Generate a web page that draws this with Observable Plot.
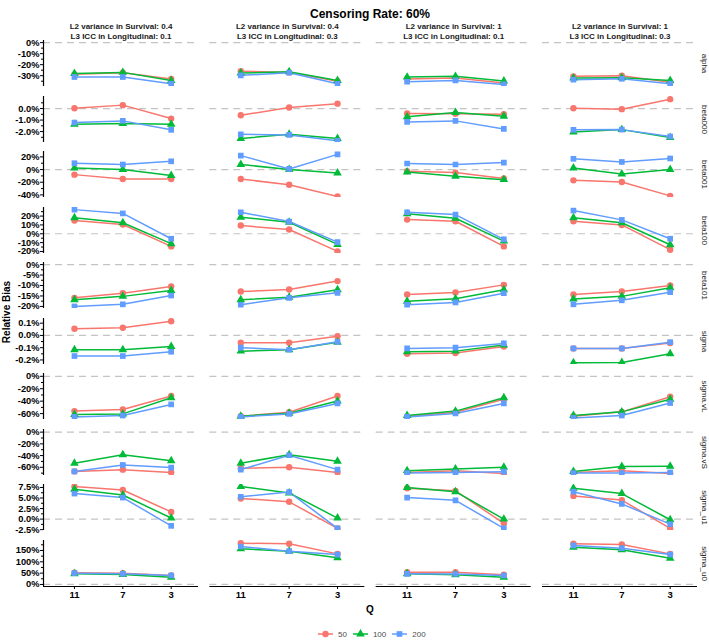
<!DOCTYPE html>
<html>
<head>
<meta charset="utf-8">
<script src="https://cdn.jsdelivr.net/npm/d3@7"></script>
<script src="https://cdn.jsdelivr.net/npm/@observablehq/plot@0.6"></script>
<style>
  body { margin: 0; background: #fff; }
  #chart { position: relative; width: 709px; height: 640px; overflow: hidden;
           font-family: "Liberation Sans", Arial, sans-serif; color: #000; }
  #chart svg.plot-row { position: absolute; left: 0; overflow: visible; }
  .title { position: absolute; left: 0; width: 740px; top: 6px; text-align: center;
           font-weight: bold; font-size: 12px; line-height: 16px; }
  .ylab { position: absolute; left: 6px; top: 312px; transform: translate(-50%, -50%) rotate(-90deg);
          font-weight: bold; font-size: 10px; white-space: nowrap; }
  .xlab { position: absolute; left: 0; width: 740px; top: 603px; text-align: center;
          font-weight: bold; font-size: 10px; line-height: 14px; }
  .legend { position: absolute; left: 318px; top: 629px; display: flex; align-items: center; gap: 6px;
            font-size: 8px; color: #4d4d4d; }
  .legend .item { display: flex; align-items: center; }
  .legend .item span { margin-left: 5px; }
</style>
</head>
<body>
<div id="chart"></div>
<script>
// ---- data: relative bias (%) of each parameter ----
const Q = [11, 7, 3];
const sizes = ["50", "100", "200"];
const colors = ["#F8766D", "#00BA38", "#619CFF"];
const symbols = ["circle", "triangle", "square"];
const conditions = [
  "L2 variance in Survival: 0.4\nL3 ICC in Longitudinal: 0.1",
  "L2 variance in Survival: 0.4\nL3 ICC in Longitudinal: 0.3",
  "L2 variance in Survival: 1\nL3 ICC in Longitudinal: 0.1",
  "L2 variance in Survival: 1\nL3 ICC in Longitudinal: 0.3"
];
const parameters = ["alpha", "beta000", "beta001", "beta100", "beta101",
                    "sigma", "sigma.vL", "sigma.vS", "sigma_u1", "sigma_u0"];

// each array: condition -> sample size (50, 100, 200) -> Q (11, 7, 3)
const alpha = [
  [[-28.8, -27.3, -33.0], [-28.0, -27.0, -34.3], [-31.2, -31.2, -37.3]],
  [[-26.0, -27.0, -35.0], [-27.6, -26.4, -34.3], [-29.7, -27.3, -37.3]],
  [[-33.0, -32.2, -36.7], [-31.3, -30.6, -34.9], [-35.5, -34.3, -37.9]],
  [[-30.6, -30.0, -36.0], [-32.2, -31.8, -34.3], [-33.6, -32.8, -37.3]]
];
const beta000 = [
  [[0.03, 0.30, -0.87], [-1.36, -1.30, -1.36], [-1.22, -1.07, -1.85]],
  [[-0.58, 0.09, 0.43], [-2.60, -2.23, -2.60], [-2.23, -2.29, -2.80]],
  [[-0.43, -0.45, -0.49], [-0.72, -0.35, -0.66], [-1.16, -1.07, -1.77]],
  [[0.03, -0.05, 0.82], [-2.03, -1.83, -2.52], [-1.85, -1.83, -2.43]]
];
const beta001 = [
  [[-8.0, -15.0, -15.0], [2.5, 0.0, -9.5], [10.0, 8.0, 13.0]],
  [[-15.0, -24.0, -42.5], [8.0, 0.0, -5.4], [22.0, 1.0, 24.0]],
  [[-2.7, -4.8, -14.0], [-3.8, -10.6, -15.9], [9.5, 8.0, 11.0]],
  [[-17.0, -19.7, -41.5], [2.5, -7.0, 0.0], [17.0, 12.0, 17.5]]
];
const beta100 = [
  [[15.0, 10.5, -14.3], [18.0, 12.4, -11.2], [27.3, 23.0, -5.6]],
  [[9.3, 4.8, -19.9], [18.7, 13.0, -12.0], [24.3, 13.8, -9.4]],
  [[16.0, 14.2, -14.3], [22.5, 17.5, -8.3], [24.3, 21.7, -6.4]],
  [[14.2, 10.0, -18.0], [18.0, 12.4, -12.4], [26.2, 15.7, -5.6]]
];
const beta101 = [
  [[-15.9, -13.7, -10.5], [-16.8, -15.2, -12.4], [-20.0, -19.0, -14.8]],
  [[-12.9, -11.9, -7.9], [-16.8, -15.6, -12.0], [-19.2, -15.9, -13.5]],
  [[-14.3, -13.3, -9.7], [-17.5, -16.3, -12.0], [-19.2, -18.1, -13.7]],
  [[-14.3, -12.9, -10.0], [-16.5, -15.2, -11.1], [-19.0, -17.1, -13.2]]
];
const sigma = [
  [[0.054, 0.062, 0.116], [-0.117, -0.117, -0.090], [-0.168, -0.168, -0.133]],
  [[-0.060, -0.060, -0.006], [-0.128, -0.117, -0.055], [-0.100, -0.117, -0.052]],
  [[-0.150, -0.144, -0.090], [-0.133, -0.128, -0.079], [-0.106, -0.100, -0.065]],
  [[-0.106, -0.106, -0.062], [-0.223, -0.220, -0.150], [-0.106, -0.106, -0.055]]
];
const sigmaVL = [
  [[-56.0, -53.4, -31.7], [-61.5, -60.5, -34.5], [-65.3, -63.1, -45.2]],
  [[-64.2, -57.7, -31.7], [-64.2, -59.3, -39.8], [-65.3, -60.5, -43.6]],
  [[-64.5, -57.7, -37.0], [-63.0, -56.0, -34.5], [-65.3, -59.9, -43.6]],
  [[-64.2, -57.2, -32.8], [-63.0, -57.2, -37.0], [-67.0, -63.1, -43.0]]
];
const sigmaVS = [
  [[-67.0, -64.0, -68.7], [-53.0, -38.5, -49.0], [-67.0, -56.0, -60.5]],
  [[-61.7, -60.0, -68.7], [-53.0, -38.5, -49.5], [-64.0, -39.5, -64.0]],
  [[-68.7, -65.7, -70.5], [-65.7, -62.9, -60.0], [-69.9, -68.7, -67.5]],
  [[-68.7, -65.7, -70.5], [-67.0, -58.8, -58.2], [-69.9, -69.9, -68.7]]
];
const sigmaU1 = [
  [[7.7, 6.9, 1.7], [7.1, 5.7, 0.25], [6.05, 5.1, -1.6]],
  [[4.9, 4.1, -2.2], [7.7, 6.2, 0.25], [5.3, 6.4, -2.2]],
  [[7.3, 6.7, -1.0], [7.5, 6.5, 0.0], [5.1, 4.45, -2.2]],
  [[5.5, 4.5, -2.2], [7.3, 6.05, -0.15], [6.5, 3.6, -1.2]]
];
const sigmaU0 = [
  [[51.5, 50.0, 39.7], [47.0, 44.0, 32.0], [50.0, 47.0, 39.7]],
  [[182.0, 179.5, 135.0], [157.4, 147.0, 117.6], [167.6, 147.0, 132.0]],
  [[54.0, 54.0, 42.6], [47.0, 42.6, 32.0], [47.0, 46.0, 39.7]],
  [[179.5, 176.5, 135.0], [164.7, 153.0, 116.0], [172.0, 160.0, 132.0]]
];

// y axis of each row: labelled ticks and decimals of their labels
const yTickValues = [
  [-30, -20, -10, 0],
  [-2, -1, 0],
  [-40, -20, 0, 20],
  [-20, -10, 0, 10, 20],
  [-20, -15, -10, -5, 0],
  [-0.2, -0.1, 0, 0.1],
  [-60, -40, -20, 0],
  [-60, -40, -20, 0],
  [-2.5, 0, 2.5, 5, 7.5],
  [0, 50, 100, 150]
];
const yDecimals = [0, 1, 0, 0, 0, 1, 0, 0, 1, 0];

const valuesByParameter = [alpha, beta000, beta001, beta100, beta101,
                           sigma, sigmaVL, sigmaVS, sigmaU1, sigmaU0];

// free y range of each row (data range plus 5% padding)
const yDomains = [
  [-39.8, 1.9], [-2.95, 1.05], [-44.1, 28.5], [-22.3, 29.7], [-21, 1],
  [-0.237, 0.138], [-69.5, 4.5], [-74, 4.5], [-2.7, 8.2], [-9, 194]
];

// ---- layout ----
const W = 709, ML = 43, MR = 12, PANEL_H = 46, ROW_TOP0 = 40, ROW_PITCH = 55.5;
const xDomain = [13.56, 0.74];
const fontFamily = '"Liberation Sans", Arial, sans-serif';

const chart = document.getElementById("chart");

const title = document.createElement("div");
title.className = "title";
title.textContent = "Censoring Rate: 60%";
chart.appendChild(title);

parameters.forEach((param, i) => {
  const first = i === 0, last = i === parameters.length - 1;
  const mt = first ? 40 : 0, mb = last ? 30 : 0;
  const values = valuesByParameter[i];
  const rows = [];
  conditions.forEach((cond, ci) =>
    sizes.forEach((n, si) =>
      Q.forEach((q, qi) => rows.push({cond, n, Q: q, v: values[ci][si][qi]}))));

  const [lo, hi] = yDomains[i];
  const majors = yTickValues[i];
  const step = majors[1] - majors[0];
  const minors = [];
  for (let k = 0; ; k++) {
    const t = majors[0] - step / 2 + k * step;
    if (t > hi) break;
    if (t >= lo) minors.push(+t.toFixed(6));
  }
  const dec = yDecimals[i];
  const fmt = d => (d < -1e-9 ? "-" : "") + Math.abs(d).toFixed(dec) + "%";

  const marks = [
    Plot.ruleY([0], {stroke: "#c4c4c4", strokeWidth: 1.2, strokeDasharray: "7,5"}),
    Plot.line(rows, {x: "Q", y: "v", z: "n", stroke: "n", fx: "cond", strokeWidth: 1.5, clip: true}),
    Plot.dot(rows, {x: "Q", y: "v", fill: "n", symbol: "n", fx: "cond", r: 3.2, clip: true}),
    // y axis line on the first column
    Plot.ruleX([conditions[0]], {fx: d => d, x: () => xDomain[0], stroke: "black", strokeWidth: 1.2}),
    Plot.axisY({ticks: majors, tickFormat: fmt, tickSize: 3, tickPadding: 1, fontSize: 9.3,
                fontWeight: "bold", label: null, facetAnchor: "left"}),
    Plot.axisY({ticks: minors, tickFormat: () => "", tickSize: 2, label: null, facetAnchor: "left"}),
    // row strip on the right
    Plot.text([conditions[conditions.length - 1]], {
      fx: d => d, text: () => param, frameAnchor: "right", dx: 7, rotate: 90,
      textAnchor: "middle", lineAnchor: "middle", fontSize: 8, fill: "#1a1a1a"
    })
  ];
  if (first) {
    marks.push(Plot.text(conditions, {
      fx: d => d, text: d => d, frameAnchor: "top", dy: -2, lineAnchor: "bottom",
      fontSize: 8, fontWeight: "bold", lineHeight: 1.25, fill: "#1a1a1a"
    }));
  }
  if (last) {
    marks.push(Plot.ruleY([lo], {stroke: "black", strokeWidth: 1.2}));
    marks.push(Plot.axisX({ticks: Q, tickFormat: d => String(d), tickSize: 3, tickPadding: 2,
                           fontSize: 9.5, fontWeight: "bold", label: null}));
  }

  const svg = Plot.plot({
    width: W,
    height: mt + PANEL_H + mb,
    marginLeft: ML, marginRight: MR, marginTop: mt, marginBottom: mb,
    style: {background: "transparent", overflow: "visible", fontFamily, color: "black"},
    fx: {domain: conditions, paddingInner: 0.068, paddingOuter: 0, round: false, label: null, axis: null},
    x: {domain: xDomain, label: null, axis: last ? undefined : null},
    y: {domain: [lo, hi], label: null},
    color: {domain: sizes, range: colors},
    symbol: {domain: sizes, range: symbols},
    marks
  });
  svg.classList.add("plot-row");
  svg.style.top = (ROW_TOP0 + ROW_PITCH * i - mt) + "px";
  chart.appendChild(svg);
});

const ylab = document.createElement("div");
ylab.className = "ylab";
ylab.textContent = "Relative Bias";
chart.appendChild(ylab);

const xlab = document.createElement("div");
xlab.className = "xlab";
xlab.textContent = "Q";
chart.appendChild(xlab);

// legend: line with the marker of each sample size
const legend = document.createElement("div");
legend.className = "legend";
const symbolTypes = {circle: d3.symbolCircle, triangle: d3.symbolTriangle, square: d3.symbolSquare};
sizes.forEach((n, k) => {
  const item = document.createElement("div");
  item.className = "item";
  const sw = d3.create("svg").attr("width", 15).attr("height", 10);
  sw.append("line").attr("x1", 0).attr("x2", 15).attr("y1", 5).attr("y2", 5)
    .attr("stroke", colors[k]).attr("stroke-width", 1.5);
  sw.append("path").attr("transform", "translate(7.5,5)")
    .attr("d", d3.symbol(symbolTypes[symbols[k]], Math.PI * 3.2 * 3.2)())
    .attr("fill", colors[k]);
  item.appendChild(sw.node());
  const label = document.createElement("span");
  label.textContent = n;
  item.appendChild(label);
  legend.appendChild(item);
});
chart.appendChild(legend);
</script>
</body>
</html>
